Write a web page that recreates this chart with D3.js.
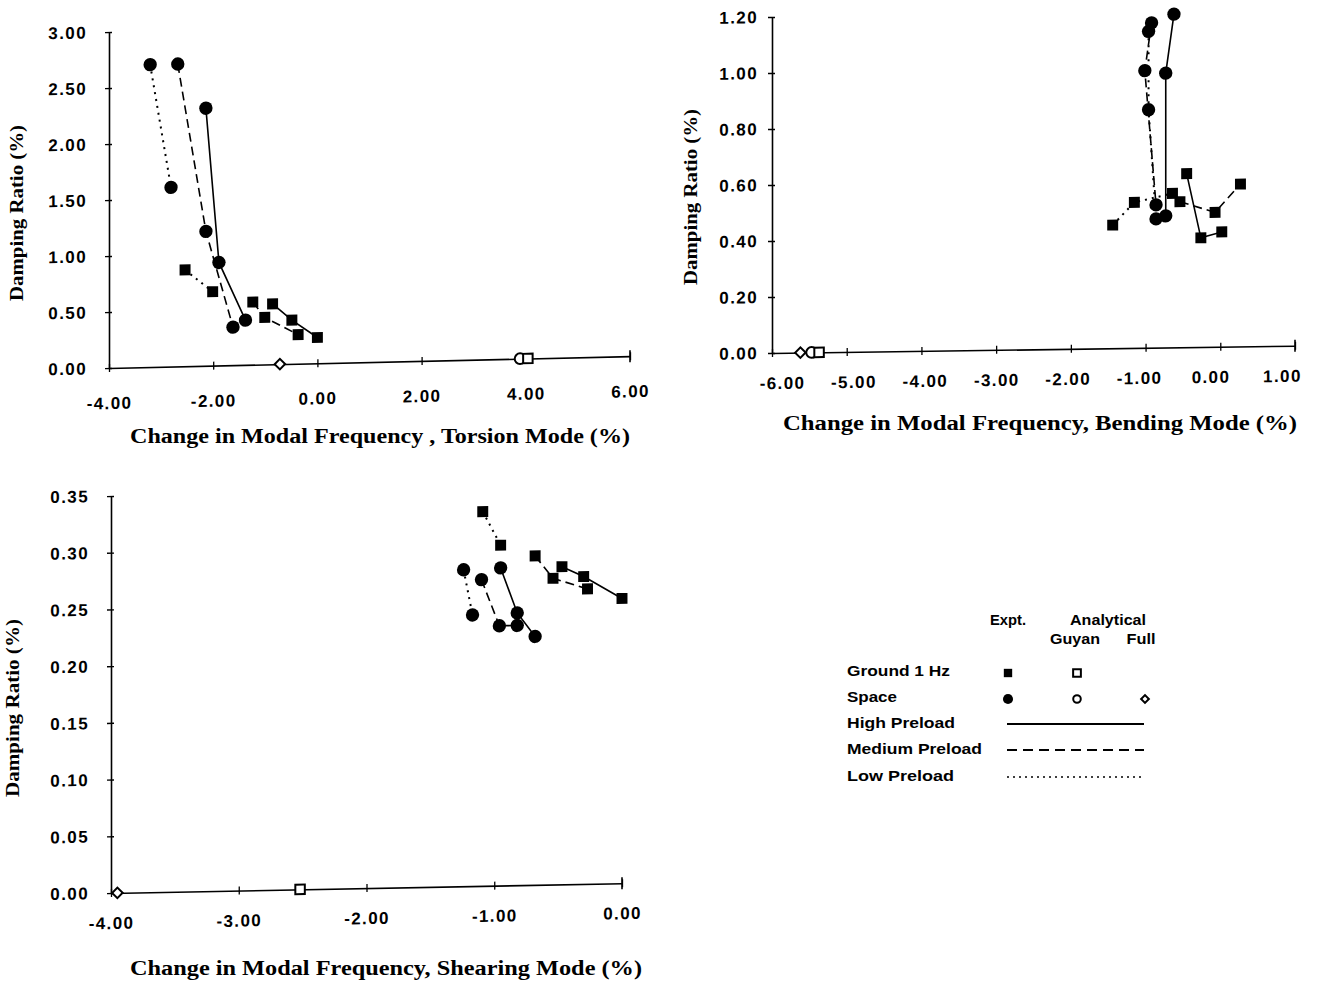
<!DOCTYPE html>
<html><head><meta charset="utf-8">
<script src="https://cdn.jsdelivr.net/npm/d3@7"></script>
<style>body{margin:0;background:#fff}</style>
</head><body>
<svg id="c" width="1330" height="994" xmlns="http://www.w3.org/2000/svg"></svg>
<script>
// ---------- DATA ----------
// Torsion mode  [change in modal frequency %, damping ratio %]
const torsionSpaceHigh  = [[-2.14, 2.30], [-1.89, 0.92], [-1.38, 0.40]];
const torsionSpaceMed   = [[-2.68, 2.70], [-2.14, 1.20], [-1.62, 0.34]];
const torsionSpaceLow   = [[-3.21, 2.70], [-2.81, 1.60]];
const torsionGroundHigh = [[-0.86, 0.54], [-0.49, 0.39], [0.00, 0.23]];
const torsionGroundMed  = [[-1.24, 0.56], [-1.01, 0.42], [-0.37, 0.26]];
const torsionGroundLow  = [[-2.54, 0.86], [-2.01, 0.66]];
const torsionGuyanGround = [4.04];
const torsionGuyanSpace  = [3.89];
const torsionFullSpace   = [-0.72];
const torsionXTicks = [-4, -2, 0, 2, 4, 6];
const torsionYTicks = [0, 0.5, 1.0, 1.5, 2.0, 2.5, 3.0];

// Bending mode
const bendingSpaceHigh  = [[-0.62, 1.19], [-0.73, 0.98], [-0.73, 0.47]];
const bendingSpaceMed   = [[-0.92, 1.16], [-1.01, 0.99], [-0.86, 0.51]];
const bendingSpaceLow   = [[-0.96, 1.13], [-0.96, 0.85], [-0.86, 0.46]];
const bendingGroundHigh = [[-0.45, 0.62], [-0.26, 0.39], [0.02, 0.41]];
const bendingGroundMed  = [[-0.54, 0.52], [-0.07, 0.48], [0.27, 0.58]];
const bendingGroundLow  = [[-1.44, 0.44], [-1.15, 0.52], [-0.64, 0.55]];
const bendingGuyanGround = [-5.37];
const bendingGuyanSpace  = [-5.47];
const bendingFullSpace   = [-5.62];
const bendingXTicks = [-6, -5, -4, -3, -2, -1, 0, 1];
const bendingYTicks = [0, 0.2, 0.4, 0.6, 0.8, 1.0, 1.2];

// Shearing mode
const shearSpaceHigh  = [[-0.95, 0.280], [-0.82, 0.240], [-0.68, 0.219]];
const shearSpaceMed   = [[-1.10, 0.270], [-0.96, 0.229], [-0.82, 0.229]];
const shearSpaceLow   = [[-1.24, 0.279], [-1.17, 0.239]];
const shearGroundHigh = [[-0.47, 0.280], [-0.30, 0.271], [0.00, 0.251]];
const shearGroundMed  = [[-0.68, 0.290], [-0.54, 0.270], [-0.27, 0.260]];
const shearGroundLow  = [[-1.09, 0.330], [-0.95, 0.300]];
const shearGuyanGround = [-2.52];
const shearGuyanSpace  = [];
const shearFullSpace   = [-3.95];
const shearXTicks = [-4, -3, -2, -1, 0];
const shearYTicks = [0, 0.05, 0.10, 0.15, 0.20, 0.25, 0.30, 0.35];

// Legend
const legendColumns = ["Expt.", "Analytical", "Guyan", "Full"];
const legendRows = ["Ground 1 Hz", "Space", "High Preload", "Medium Preload", "Low Preload"];

// ---------- DRAWING ----------
const svg = d3.select("#c");
const TICKFONT = "'Liberation Sans', Arial, sans-serif";
const TITLEFONT = "'Liberation Serif', 'DejaVu Serif', serif";
const dashOf = {high: null, med: "9,5", low: "2,5"};
const fmt = d => d.toFixed(2);

function panel(cfg) {
  const x = d3.scaleLinear().domain(cfg.xDomain).range([0, cfg.width]);
  const y = d3.scaleLinear().domain(cfg.yDomain).range([cfg.yBottom, cfg.yTop]);
  const g = svg.append("g")
    .attr("transform", `translate(${cfg.x0},0) skewY(${-cfg.skew})`);

  // y axis
  const ya = g.append("g").call(d3.axisLeft(y).tickValues(cfg.yTicks).tickFormat(fmt)
      .tickSizeInner(4).tickSizeOuter(0).tickPadding(cfg.yPad));
  ya.select(".domain").attr("stroke", "#000").attr("stroke-width", 1.6);
  ya.selectAll(".tick line").attr("stroke-width", 1.4).attr("x2", -4).attr("x1", 3);
  ya.selectAll("text").attr("font-family", TICKFONT).attr("font-weight", "bold")
    .attr("font-size", 17).attr("letter-spacing", 1.4).attr("fill", "#000");

  // x axis
  const xa = g.append("g").attr("transform", `translate(0,${cfg.yBottom})`)
    .call(d3.axisBottom(x).tickValues(cfg.xTicks).tickFormat(fmt)
      .tickSizeInner(4).tickSizeOuter(0).tickPadding(cfg.xPad));
  xa.select(".domain").attr("stroke", "#000").attr("stroke-width", 1.6);
  xa.selectAll(".tick line").attr("y1", -4).attr("y2", 4).attr("stroke-width", 1.3);
  xa.selectAll("text").attr("font-family", TICKFONT).attr("font-weight", "bold")
    .attr("font-size", 17).attr("letter-spacing", 1.4).attr("fill", "#000")
    .attr("dx", (d, i) => (cfg.xLabelDx || 0) - i * (cfg.xLabelSqueeze || 0));
  // end cap
  xa.append("line").attr("x1", x(cfg.xDomain[1])).attr("x2", x(cfg.xDomain[1]))
    .attr("y1", -6).attr("y2", 6).attr("stroke", "#000").attr("stroke-width", 1.6);

  const line = d3.line().x(d => x(d[0])).y(d => y(d[1]));
  cfg.series.forEach(s => {
    g.append("path").datum(s.data).attr("d", line).attr("fill", "none")
      .attr("stroke", "#000").attr("stroke-width", s.level === "low" ? 2 : 1.6)
      .attr("stroke-dasharray", dashOf[s.level]);
  });
  cfg.series.forEach(s => {
    const sym = d3.symbol().type(s.kind === "ground" ? d3.symbolSquare : d3.symbolCircle)
      .size(s.kind === "ground" ? 120 : 140);
    g.selectAll(null).data(s.data).enter().append("path")
      .attr("d", sym).attr("transform", d => `translate(${x(d[0])},${y(d[1])})`)
      .attr("fill", "#000");
  });
  // analytical markers (zero damping)
  const open = (vals, type, size, rot) => g.selectAll(null).data(vals).enter().append("path")
    .attr("d", d3.symbol().type(type).size(size))
    .attr("transform", d => `translate(${x(d)},${y(0)}) rotate(${rot})`)
    .attr("fill", "#fff").attr("stroke", "#000").attr("stroke-width", 2);
  open(cfg.guyanSpace, d3.symbolCircle, 90, 0);
  open(cfg.guyanGround, d3.symbolSquare, 90, 0);
  open(cfg.fullSpace, d3.symbolSquare, 55, 45);

  // titles
  svg.append("text").attr("x", cfg.xTitle[0]).attr("y", cfg.xTitle[1])
    .attr("text-anchor", "middle").attr("font-family", TITLEFONT).attr("font-weight", "bold")
    .attr("font-size", 20).attr("textLength", cfg.xTitle[2]).attr("lengthAdjust", "spacingAndGlyphs")
    .text(cfg.xLabel);
  svg.append("text").attr("transform", `translate(${cfg.yTitle[0]},${cfg.yTitle[1]}) rotate(-90)`)
    .attr("text-anchor", "middle").attr("font-family", TITLEFONT).attr("font-weight", "bold")
    .attr("font-size", 19).attr("textLength", cfg.yTitle[2]).attr("lengthAdjust", "spacingAndGlyphs")
    .text("Damping Ratio (%)");
}

panel({
  x0: 109, width: 521, yTop: 32, yBottom: 368, skew: 1.3,
  xDomain: [-4, 6], yDomain: [0, 3], xTicks: torsionXTicks, yTicks: torsionYTicks,
  yPad: 18, xPad: 25,
  series: [
    {kind: "space", level: "high", data: torsionSpaceHigh},
    {kind: "space", level: "med", data: torsionSpaceMed},
    {kind: "space", level: "low", data: torsionSpaceLow},
    {kind: "ground", level: "high", data: torsionGroundHigh},
    {kind: "ground", level: "med", data: torsionGroundMed},
    {kind: "ground", level: "low", data: torsionGroundLow}],
  guyanGround: torsionGuyanGround, guyanSpace: torsionGuyanSpace, fullSpace: torsionFullSpace,
  xLabel: "Change in Modal Frequency , Torsion Mode (%)", xTitle: [380, 443, 500],
  yTitle: [23, 213, 176]
});

panel({
  x0: 772, width: 523, yTop: 17, yBottom: 353, skew: 0.8,
  xDomain: [-6, 1], yDomain: [0, 1.2], xTicks: bendingXTicks, yTicks: bendingYTicks,
  yPad: 10, xPad: 20, xLabelDx: 10, xLabelSqueeze: 3.3,
  series: [
    {kind: "space", level: "high", data: bendingSpaceHigh},
    {kind: "space", level: "med", data: bendingSpaceMed},
    {kind: "space", level: "low", data: bendingSpaceLow},
    {kind: "ground", level: "high", data: bendingGroundHigh},
    {kind: "ground", level: "med", data: bendingGroundMed},
    {kind: "ground", level: "low", data: bendingGroundLow}],
  guyanGround: bendingGuyanGround, guyanSpace: bendingGuyanSpace, fullSpace: bendingFullSpace,
  xLabel: "Change in Modal Frequency, Bending Mode (%)", xTitle: [1040, 430, 514],
  yTitle: [697, 197, 176]
});

panel({
  x0: 111, width: 511, yTop: 496, yBottom: 893, skew: 1.1,
  xDomain: [-4, 0], yDomain: [0, 0.35], xTicks: shearXTicks, yTicks: shearYTicks,
  yPad: 18, xPad: 20,
  series: [
    {kind: "space", level: "high", data: shearSpaceHigh},
    {kind: "space", level: "med", data: shearSpaceMed},
    {kind: "space", level: "low", data: shearSpaceLow},
    {kind: "ground", level: "high", data: shearGroundHigh},
    {kind: "ground", level: "med", data: shearGroundMed},
    {kind: "ground", level: "low", data: shearGroundLow}],
  guyanGround: shearGuyanGround, guyanSpace: shearGuyanSpace, fullSpace: shearFullSpace,
  xLabel: "Change in Modal Frequency, Shearing Mode (%)", xTitle: [386, 975, 512],
  yTitle: [19, 708, 178]
});

// ---------- LEGEND ----------
const lg = svg.append("g").attr("font-family", TICKFONT).attr("font-weight", "bold")
  .attr("font-size", 14.5).attr("fill", "#000");
const colX = {expt: 1008, guyan: 1077, full: 1145};
lg.append("text").attr("x", colX.expt).attr("y", 625).attr("text-anchor", "middle")
  .attr("textLength", 36).attr("lengthAdjust", "spacingAndGlyphs").text(legendColumns[0]);
lg.append("text").attr("x", 1108).attr("y", 625).attr("text-anchor", "middle")
  .attr("textLength", 76).attr("lengthAdjust", "spacingAndGlyphs").text(legendColumns[1]);
lg.append("text").attr("x", 1075).attr("y", 644).attr("text-anchor", "middle")
  .attr("textLength", 50).attr("lengthAdjust", "spacingAndGlyphs").text(legendColumns[2]);
lg.append("text").attr("x", 1141).attr("y", 644).attr("text-anchor", "middle")
  .attr("textLength", 29).attr("lengthAdjust", "spacingAndGlyphs").text(legendColumns[3]);

const rowY = [671, 697, 723, 749, 776];
const rowW = [103, 50, 108, 135, 107];
legendRows.forEach((r, i) => {
  lg.append("text").attr("x", 847).attr("y", rowY[i] + 5)
    .attr("textLength", rowW[i]).attr("lengthAdjust", "spacingAndGlyphs").text(r);
});
const L = svg.append("g");
L.append("path").attr("d", d3.symbol().type(d3.symbolSquare).size(70))
  .attr("transform", `translate(${colX.expt},${rowY[0] + 2})`).attr("fill", "#000");
L.append("path").attr("d", d3.symbol().type(d3.symbolSquare).size(60))
  .attr("transform", `translate(${colX.guyan},${rowY[0] + 2})`).attr("fill", "#fff").attr("stroke", "#000").attr("stroke-width", 2);
L.append("path").attr("d", d3.symbol().type(d3.symbolCircle).size(80))
  .attr("transform", `translate(${colX.expt},${rowY[1] + 2})`).attr("fill", "#000");
L.append("path").attr("d", d3.symbol().type(d3.symbolCircle).size(45))
  .attr("transform", `translate(${colX.guyan},${rowY[1] + 2})`).attr("fill", "#fff").attr("stroke", "#000").attr("stroke-width", 2);
L.append("path").attr("d", d3.symbol().type(d3.symbolSquare).size(30))
  .attr("transform", `translate(${colX.full},${rowY[1] + 2}) rotate(45)`).attr("fill", "#fff").attr("stroke", "#000").attr("stroke-width", 2);
["high", "med", "low"].forEach((lv, i) => {
  L.append("line").attr("x1", 1007).attr("x2", 1144).attr("y1", rowY[2 + i] + 1).attr("y2", rowY[2 + i] + 1)
    .attr("stroke", "#000").attr("stroke-width", lv === "low" ? 1.6 : 1.8)
    .attr("stroke-dasharray", lv === "med" ? "10,6" : (lv === "low" ? "2,4" : null));
});
</script>
</body></html>
